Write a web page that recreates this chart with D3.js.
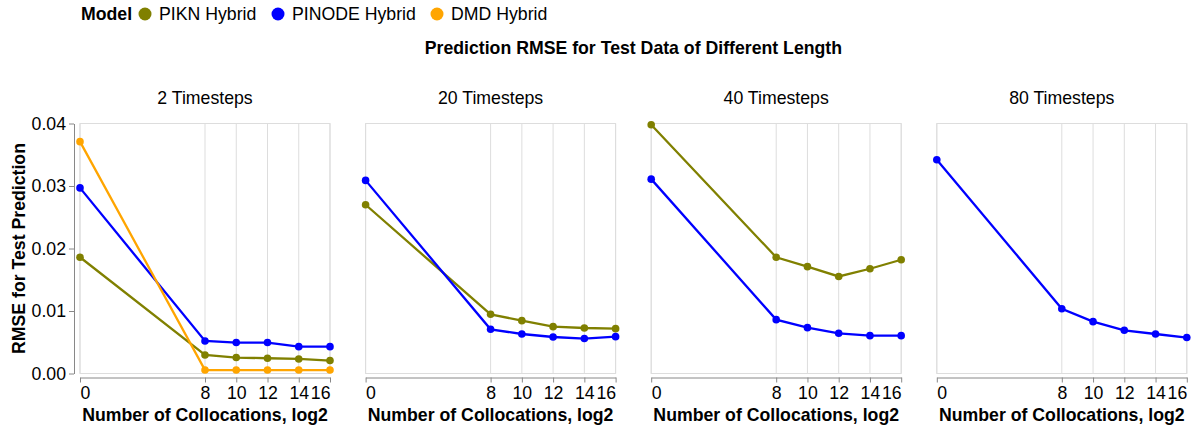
<!DOCTYPE html>
<html>
<head>
<meta charset="utf-8">
<script src="https://cdn.jsdelivr.net/npm/d3@7"></script>
<style>
  body { margin: 0; background: #fff; }
  svg { font-family: "Liberation Sans", Arial, sans-serif; }
</style>
</head>
<body>
<svg id="chart"></svg>
<script>
// data
const models = ["PIKN Hybrid", "PINODE Hybrid", "DMD Hybrid"];
const modelColors = ["#808000", "#0000ff", "#ffa500"];
const timesteps = [2, 20, 40, 80];
const collocations = [0, 8, 10, 12, 14, 16];
const yTicks = [0, 0.01, 0.02, 0.03, 0.04];

// one row per timestep panel (null = model not shown in that panel)
const piknRmse = [
  [0.0186, 0.00297, 0.00255, 0.00244, 0.00233, 0.00207],
  [0.0270, 0.00947, 0.00846, 0.0075, 0.00728, 0.00718],
  [0.0398, 0.0186, 0.0171, 0.01553, 0.01676, 0.0182],
  null
];
const pinodeRmse = [
  [0.0297, 0.0052, 0.00495, 0.00495, 0.0043, 0.0043],
  [0.0309, 0.00707, 0.00632, 0.00584, 0.00559, 0.0059],
  [0.0311, 0.00862, 0.00734, 0.00643, 0.00606, 0.00606],
  [0.0342, 0.01037, 0.0083, 0.00691, 0.00632, 0.00575]
];
const dmdRmse = [
  [0.0371, 0.00055, 0.00055, 0.00055, 0.00055, 0.00055],
  null,
  null,
  null
];

const seriesByModel = [piknRmse, pinodeRmse, dmdRmse];

var width = 1197
var height = 428
var plotW = 250
var plotH = 250
var plotTop = 123.5
var firstLeft = 80
var panelStep = 285.6
var fontSize = 17.7

var svg = d3.select("#chart")
  .attr("width", width)
  .attr("height", height)

var color = d3.scaleOrdinal().domain(models).range(modelColors)

var x = d3.scaleLinear().domain([0, 16]).range([0, plotW])
var y = d3.scaleLinear().domain([0, 0.04]).range([plotH, 0])

// legend
var legend = svg.append("g").attr("transform", "translate(81,0)")
legend.append("text")
  .attr("x", 0).attr("y", 19.5)
  .style("font-size", fontSize + "px")
  .style("font-weight", "bold")
  .text("Model")
var legendX = [64, 197, 356]
models.forEach(function(m, i) {
  legend.append("circle")
    .attr("cx", legendX[i]).attr("cy", 14)
    .attr("r", 6.5)
    .attr("fill", color(m))
  legend.append("text")
    .attr("x", legendX[i] + 14).attr("y", 19.5)
    .style("font-size", fontSize + "px")
    .text(m)
})

// main title
svg.append("text")
  .attr("x", firstLeft + (panelStep * 3 + plotW) / 2)
  .attr("y", 54)
  .attr("text-anchor", "middle")
  .style("font-size", fontSize + "px")
  .style("font-weight", "bold")
  .text("Prediction RMSE for Test Data of Different Length")

var line = d3.line()
  .x(function(d) { return x(d[0]) })
  .y(function(d) { return y(d[1]) })

timesteps.forEach(function(ts, p) {
  var g = svg.append("g")
    .attr("transform", "translate(" + (firstLeft + p * panelStep) + "," + plotTop + ")")

  // facet header
  g.append("text")
    .attr("x", plotW / 2).attr("y", -19.5)
    .attr("text-anchor", "middle")
    .style("font-size", fontSize + "px")
    .text(ts + " Timesteps")

  // frame + vertical grid
  g.append("rect")
    .attr("width", plotW).attr("height", plotH)
    .attr("fill", "none")
    .attr("stroke", "#ddd")
  g.selectAll(".grid")
    .data(collocations)
    .enter()
    .append("line")
    .attr("x1", function(d) { return x(d) })
    .attr("x2", function(d) { return x(d) })
    .attr("y1", 0).attr("y2", plotH)
    .attr("stroke", "#ddd")

  // x axis
  var xAxis = g.append("g")
    .attr("transform", "translate(0," + (plotH + 4) + ")")
    .call(d3.axisBottom(x).tickValues(collocations).tickSize(5).tickPadding(4).tickSizeOuter(0))
  xAxis.select(".domain").attr("stroke", "#888")
  xAxis.selectAll(".tick line").attr("stroke", "#888")
  xAxis.selectAll(".tick text")
    .attr("fill", "#000")
    .style("font-size", fontSize + "px")
    .style("font-family", "Liberation Sans, Arial, sans-serif")
    .attr("text-anchor", function(d) { return d == 0 ? "start" : (d == 16 ? "end" : "middle") })
  g.append("text")
    .attr("x", plotW / 2).attr("y", 297.5)
    .attr("text-anchor", "middle")
    .style("font-size", fontSize + "px")
    .style("font-weight", "bold")
    .text("Number of Collocations, log2")

  // y axis only on first panel
  if (p == 0) {
    var yAxis = g.append("g")
      .attr("transform", "translate(-6,0)")
      .call(d3.axisLeft(y).tickValues(yTicks).tickFormat(d3.format(".2f")).tickSize(5).tickPadding(3).tickSizeOuter(0))
    yAxis.select(".domain").attr("stroke", "#888")
    yAxis.selectAll(".tick line").attr("stroke", "#888")
    yAxis.selectAll(".tick text")
      .attr("fill", "#000")
      .style("font-size", fontSize + "px")
      .style("font-family", "Liberation Sans, Arial, sans-serif")
    g.append("text")
      .attr("transform", "translate(" + (25 - firstLeft) + "," + (plotH / 2) + ") rotate(-90)")
      .attr("text-anchor", "middle")
      .style("font-size", fontSize + "px")
      .style("font-weight", "bold")
      .text("RMSE for Test Prediction")
  }

  // lines and points
  seriesByModel.forEach(function(series, m) {
    var vals = series[p]
    if (!vals) return
    var pts = collocations.map(function(c, i) { return [c, vals[i]] })
    g.append("path")
      .datum(pts)
      .attr("d", line)
      .attr("fill", "none")
      .attr("stroke", color(models[m]))
      .attr("stroke-width", 2.3)
    g.selectAll(".pt" + m)
      .data(pts)
      .enter()
      .append("circle")
      .attr("cx", function(d) { return x(d[0]) })
      .attr("cy", function(d) { return y(d[1]) })
      .attr("r", 3.8)
      .attr("fill", color(models[m]))
  })
})
</script>
</body>
</html>
